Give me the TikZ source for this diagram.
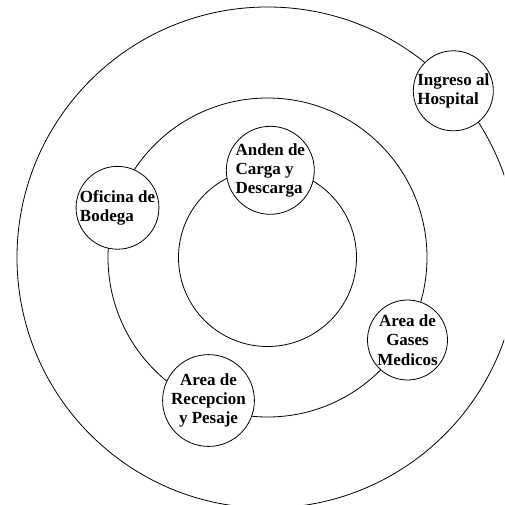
\documentclass[tikz,border=0pt]{standalone}
\usepackage{fontspec}
\setmainfont{Liberation Serif}
\tikzstyle{ring}=[draw, circle, line width=0.8pt, inner sep=0pt]
\tikzstyle{area}=[draw, circle, fill=white, line width=0.8pt,
                  minimum size=80pt, inner sep=0pt,
                  font=\fontsize{17}{19.3}\selectfont\bfseries]

\begin{document}
\begin{tikzpicture}[x=1pt, y=-1pt]
      \useasboundingbox (0,0) rectangle (504,505);
      \clip (0,0) rectangle (504,505);
      % Place the rings round the centre
      \coordinate (c) at (267.5,257.5);
      \foreach \r/\name in {89/inner, 159.5/middle, 250.5/outer}
        \node[ring, minimum size=\r*2pt] (\name) at (c) {};
      %
      % Place the areas on the rings
      \node[area, align=left] (ingreso) at (453.3,90.8) {Ingreso al\\Hospital};
      \node[area, align=left] (anden) at (270.3,170.3) {Anden de\\Carga y\\Descarga};
      \node[area, align=left] (oficina) at (117.5,207.8) {Oficina de\\Bodega};
      \node[area, align=center] (gases) at (407.5,340) {Area de\\Gases\\Medicos};
      \node[area, align=center] (recepcion) at (208.5,400.5) {Area de\\Recepcion\\y Pesaje};
\end{tikzpicture}
\end{document}
